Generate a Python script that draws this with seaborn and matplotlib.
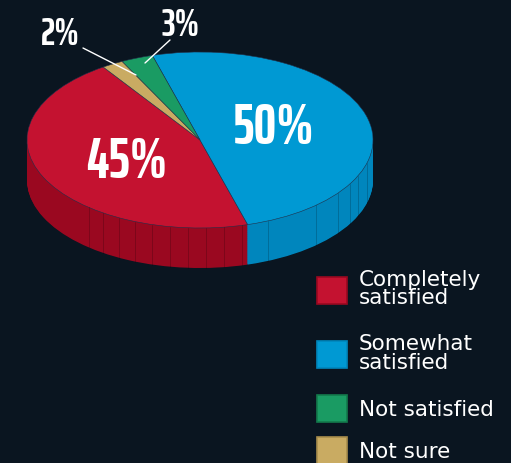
import numpy as np
import matplotlib
matplotlib.use("Agg")
import matplotlib.pyplot as plt
from matplotlib import font_manager as fm
from matplotlib.patches import Patch
import seaborn as sns

# ---- data ----
categories = ["Completely\nsatisfied", "Somewhat\nsatisfied", "Not satisfied", "Not sure"]
values = [45, 50, 3, 2]
pct_labels = ["45%", "50%", "3%", "2%"]

top_colors = ["#c41230", "#0099d3", "#1a9b63", "#c9ab62"]
side_colors = ["#9a0820", "#0086bd", "#137a4c", "#a88d4c"]
BG = "#0a1520"

sns.set_theme(style="white", rc={"figure.facecolor": BG, "axes.facecolor": BG,
                                 "savefig.facecolor": BG})
palette = sns.color_palette(top_colors)
side_palette = sns.color_palette(side_colors)
plt.rcParams["font.family"] = ["DejaVu Sans"]

# condensed bold font for the percentages
pct_fp = None
for wanted in ["SairaExtraCondensed-Bold.ttf", "SairaCondensed-Bold.ttf",
               "SairaExtraCondensed-SemiBold.ttf", "SairaSemiCondensed-Bold.ttf"]:
    hits = [f.fname for f in fm.fontManager.ttflist if f.fname.endswith(wanted)]
    if hits:
        pct_fp = fm.FontProperties(fname=hits[0])
        break
if pct_fp is None:
    pct_fp = fm.FontProperties(family="DejaVu Sans", weight="bold")

W, H = 511, 463
fig = plt.figure(figsize=(W / 100, H / 100), dpi=100)
ax = fig.add_axes([0, 0, 1, 1])

cx_px, cy_px, rx, ry, depth = 200, 140, 173, 88, 40
k = rx / ry


def P(x, y):
    return x, (H - y) * k


cx, cy = P(cx_px, cy_px)
start = 124

# side of the 3D pie: stacked layers
n_layers = 60
for d in np.linspace(depth, 1, n_layers):
    ax.pie(values, colors=side_palette, startangle=start, counterclock=True,
           center=(cx, cy - d * k), radius=rx,
           wedgeprops=dict(linewidth=0))

# facet lines on the side
facet_angles = list(range(230, 286, 6)) + [293, 312, 323, 330, 336, 345]
for a in facet_angles:
    t = np.deg2rad(a)
    x = cx + rx * np.cos(t)
    y_top = cy + rx * np.sin(t)
    ax.plot([x, x], [y_top, y_top - depth * k], color="#000000", alpha=0.22,
            lw=0.6)

# top face
ax.pie(values, colors=palette, startangle=start, counterclock=True,
       center=(cx, cy), radius=rx,
       wedgeprops=dict(linewidth=0.4, edgecolor="#20304a"))

ax.set_aspect("auto")
ax.set_xlim(0, W)
ax.set_ylim(0, H * k)
ax.axis("off")


def pct(x, y, s, size):
    fp = pct_fp.copy()
    fp.set_size(size)
    ax.text(*P(x, y), s, color="white", ha="center", va="center",
            fontproperties=fp)


pct(127, 162, pct_labels[0], 41)
pct(274, 128, pct_labels[1], 41)
pct(180, 26, pct_labels[2], 27)
pct(60, 35, pct_labels[3], 27)

for (x0, y0), (x1, y1) in [((83, 48), (136, 75)), ((170, 40), (145, 63))]:
    ax.plot([P(x0, y0)[0], P(x1, y1)[0]], [P(x0, y0)[1], P(x1, y1)[1]],
            color="white", lw=1)

handles = [Patch(facecolor=c, edgecolor=s, linewidth=1.2)
           for c, s in zip(palette, side_palette)]
common = dict(frameon=False, fontsize=15.5, labelcolor="white",
              handlelength=1.4, handleheight=1.55, handletextpad=0.55,
              borderpad=0, borderaxespad=0, loc="upper left")
leg1 = fig.legend(handles[:2], categories[:2],
                  bbox_to_anchor=(317 / W, 1 - 270 / H), labelspacing=1.2,
                  **common)
leg2 = fig.legend(handles[2:], categories[2:],
                  bbox_to_anchor=(317 / W, 1 - 395 / H), labelspacing=0.72,
                  **common)
for leg in (leg1, leg2):
    for t in leg.get_texts():
        t.set_linespacing(0.9)

fig.savefig("out.png", dpi=100, facecolor=BG)
